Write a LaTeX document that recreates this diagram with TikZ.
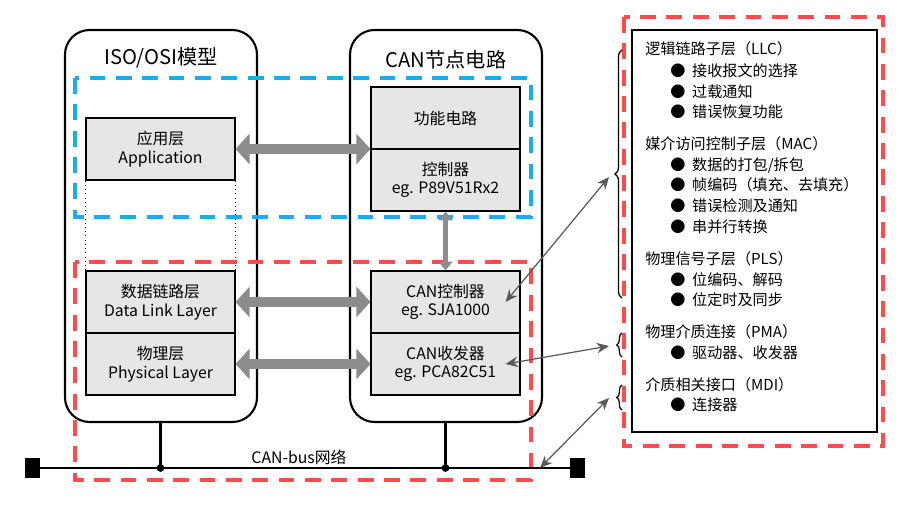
\documentclass[tikz,border=0pt]{standalone}
\usepackage{fontspec}
\setmainfont{Noto Sans CJK SC}
\usetikzlibrary{arrows.meta,decorations.pathreplacing}
\definecolor{boxgray}{HTML}{E6E6E6}
\definecolor{arrgray}{HTML}{8C8C8C}
\definecolor{dred}{HTML}{FF4B4B}
\definecolor{dblue}{HTML}{1AACEC}
\tikzset{
  layer/.style={draw, line width=0.9pt, fill=boxgray, minimum width=149*0.567pt, minimum height=62*0.567pt, inner sep=0pt, align=center, font=\fontsize{9}{10.5}\selectfont},
  big/.style={{Triangle[length=8pt,width=17pt]}-{Triangle[length=8pt,width=17pt]}, line width=6pt, arrgray},
  link/.style={{Stealth[length=7pt,width=6pt]}-{Stealth[length=7pt,width=6pt]}, line width=0.7pt, black!65},
  zone/.style={line width=2pt, dash pattern=on 9pt off 6pt},
  item/.style={anchor=base west, inner sep=0pt, font=\fontsize{8.6}{10}\selectfont}
}
\begin{document}
\begin{tikzpicture}[x=0.02cm,y=-0.02cm]
  \useasboundingbox (0,0) rectangle (912,526);
  % outer frames
  \draw[line width=1.2pt, rounded corners=14pt] (65,30) rectangle (257,422);
  \draw[line width=1.2pt, rounded corners=14pt] (350,30) rectangle (542,422);
  \node[font=\fontsize{11.5}{12}\selectfont] at (161,58) {ISO/OSI模型};
  \node[font=\fontsize{11.5}{12}\selectfont] at (446,60) {CAN节点电路};
  % layers
  \node[layer] (app) at (160.5,149) {应用层\\Application};
  \node[layer] (dll) at (160.5,302) {数据链路层\\Data Link Layer};
  \node[layer] (phy) at (160.5,364) {物理层\\Physical Layer};
  \node[layer] (func) at (445.5,118) {功能电路};
  \node[layer] (mcu) at (445.5,180) {控制器\\eg. P89V51Rx2};
  \node[layer] (canc) at (445.5,302) {CAN控制器\\eg. SJA1000};
  \node[layer] (cant) at (445.5,364) {CAN收发器\\eg. PCA82C51};
  \draw[dotted] (app.south west) -- (dll.north west);
  \draw[dotted] (app.south east) -- (dll.north east);
  % dashed zones
  \draw[zone, dblue] (75,78) rectangle (531,217);
  \draw[zone, dred] (75,262) rectangle (531,480);
  % layer arrows
  \draw[big] (app.east) -- (func.west |- app.east);
  \draw[big] (dll.east) -- (canc.west);
  \draw[big] (phy.east) -- (cant.west);
  \draw[{Triangle[length=5pt,width=8pt]}-{Triangle[length=5pt,width=8pt]}, line width=3pt, arrgray] (mcu.south) -- (canc.north);
  % bus
  \coordinate (busL) at (40,468);
  \coordinate (busR) at (570,468);
  \draw[line width=1.2pt] (busL) -- (busR);
  \fill (25,458) rectangle (40,478);
  \fill (570,458) rectangle (585,478);
  \node[font=\fontsize{9}{10}\selectfont] (busname) at (299,457) {CAN-bus网络};
  \coordinate (j1) at (160.5,468);
  \coordinate (j2) at (445.5,468);
  \draw[line width=1.2pt] (160.5,422) -- (j1);
  \draw[line width=1.2pt] (445.5,422) -- (j2);
  \fill (j1) circle (2.2pt);
  \fill (j2) circle (2.2pt);
  % sublayer panel
  \draw[zone, dred] (624,17) rectangle (883,446);
  \draw[line width=1pt] (632,30) rectangle (877,432);
  \node[item] at (645,55) {逻辑链路子层（LLC）};
  \node[item] at (670,77) {●\ \ 接收报文的选择};
  \node[item] at (670,98) {●\ \ 过载通知};
  \node[item] at (670,118) {●\ \ 错误恢复功能};
  \node[item] at (645,150) {媒介访问控制子层（MAC）};
  \node[item] at (670,171) {●\ \ 数据的打包/拆包};
  \node[item] at (670,191) {●\ \ 帧编码（填充、去填充）};
  \node[item] at (670,212) {●\ \ 错误检测及通知};
  \node[item] at (670,233) {●\ \ 串并行转换};
  \node[item] at (645,265) {物理信号子层（PLS）};
  \node[item] at (670,286) {●\ \ 位编码、解码};
  \node[item] at (670,306) {●\ \ 位定时及同步};
  \node[item] at (645,338) {物理介质连接（PMA）};
  \node[item] at (670,359) {●\ \ 驱动器、收发器};
  \node[item] at (645,391) {介质相关接口（MDI）};
  \node[item] at (670,411) {●\ \ 连接器};
  % braces
  \draw[decorate, decoration={brace, amplitude=4pt}, line width=0.7pt] (622,298) -- (622,50);
  \draw[decorate, decoration={brace, amplitude=3pt}, line width=0.7pt] (622,357) -- (622,333);
  \draw[decorate, decoration={brace, amplitude=3pt}, line width=0.7pt] (622,410) -- (622,385);
  \coordinate (bLLC) at (609,177);
  \coordinate (bPMA) at (609,346);
  \coordinate (bMDI) at (609,398);
  \draw[link] (bLLC) -- ([xshift=-15*0.567pt]canc.east);
  \draw[link] (bPMA) -- ([xshift=-15*0.567pt]cant.east);
  \draw[link] (bMDI) -- (540,468);
\end{tikzpicture}
\end{document}
